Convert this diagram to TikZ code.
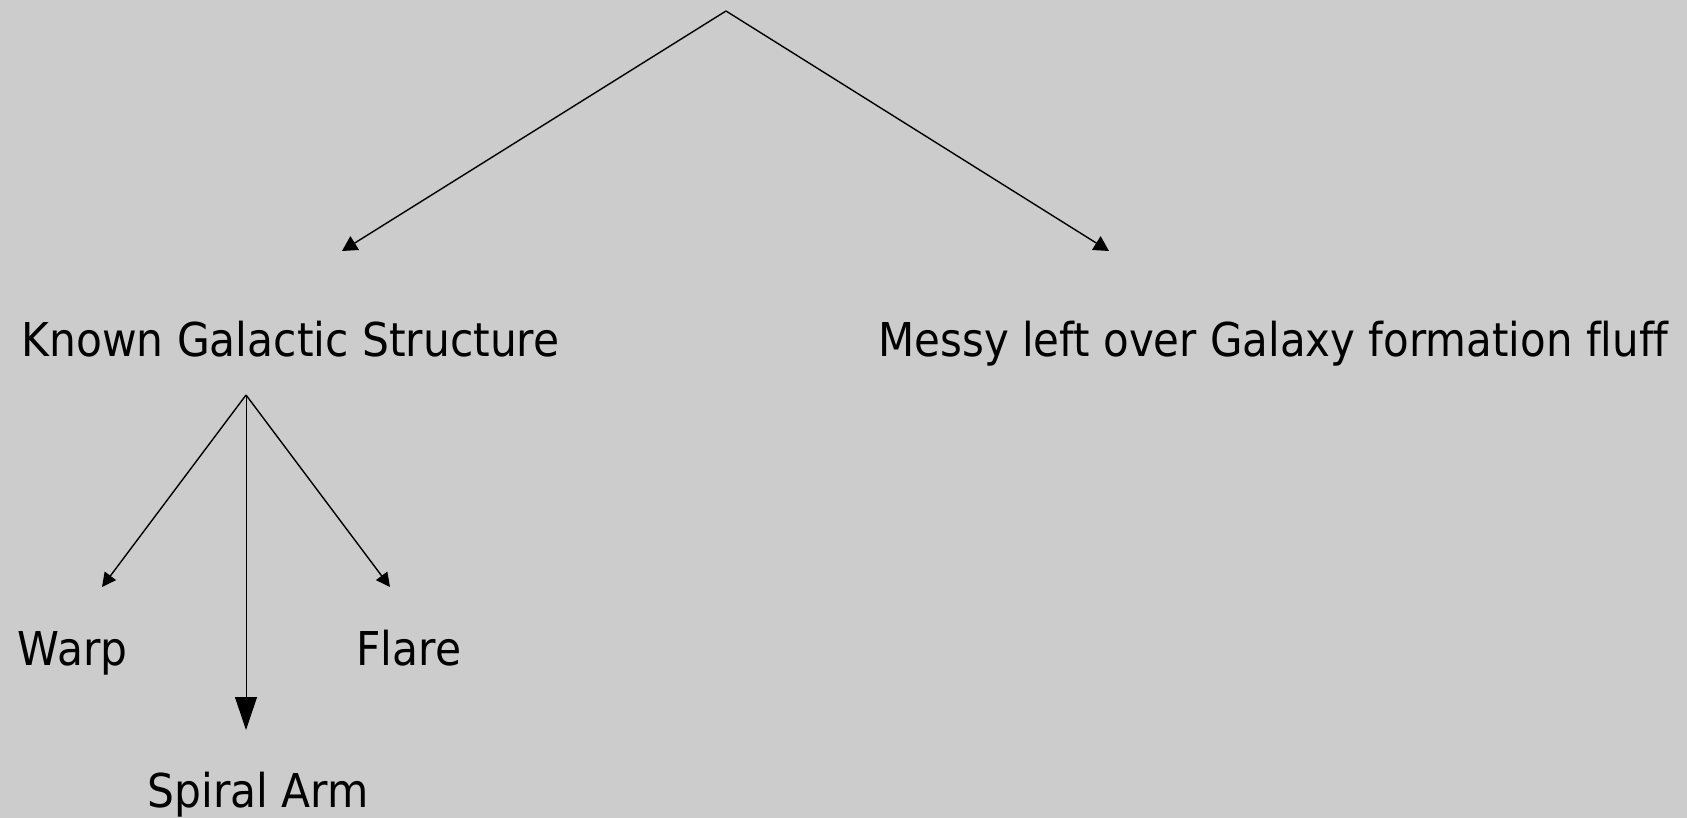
\documentclass[tikz,border=0pt]{standalone}
\usepackage{fontspec}
\setmainfont[FakeStretch=0.91,Ligatures={NoCommon}]{DejaVu Sans}
\newfontfamily\narrowsans[FakeStretch=0.90,Ligatures={NoCommon}]{DejaVu Sans}
\usetikzlibrary{arrows.meta}
\definecolor{bg}{RGB}{204,204,204}
\begin{document}
\begin{tikzpicture}[x=0.5pt,y=-0.5pt,
  lbl/.style={anchor=base west, inner sep=0pt, font=\fontsize{23.3pt}{28pt}\selectfont},
  topedge/.style={line width=0.7pt, -{Triangle[length=7.5pt,width=8pt]}},
  subedge/.style={line width=0.7pt, -{Triangle[length=7pt,width=7pt]}},
  midedge/.style={line width=0.5pt, -{Triangle[length=16.5pt,width=11pt]}}]
\fill[bg] (0,0) rectangle (1687,818);
\useasboundingbox (0,0) rectangle (1687,818);
% labels
\node[lbl] (known) at (21,357) {Known Galactic Structure};
\node[lbl] (messy) at (878,357) {\narrowsans Messy left over Galaxy formation fluff};
\node[lbl] (warp) at (17.5,665) {Warp};
\node[lbl] (flare) at (356,665) {Flare};
\node[lbl] (spiral) at (147,807) {Spiral Arm};
% connector points
\coordinate (root) at (726,11);
\coordinate (knownin) at (342,251);
\coordinate (messyin) at (1109,251);
\coordinate (kroot) at (246,395);
\coordinate (warpin) at (102,587);
\coordinate (flarein) at (390,587);
\coordinate (spiralin) at (246,730);
% connectors
\draw[topedge] (root) -- (knownin);
\draw[topedge] (root) -- (messyin);
\draw[subedge] (kroot) -- (warpin);
\draw[subedge] (kroot) -- (flarein);
\draw[midedge] (kroot) -- (spiralin);
\end{tikzpicture}
\end{document}
